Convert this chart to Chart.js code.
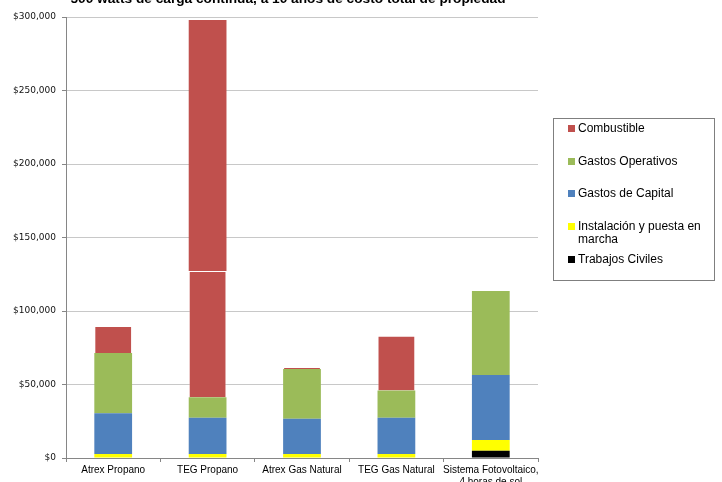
<!DOCTYPE html>
<html>
<head>
<meta charset="utf-8">
<script src="https://cdn.jsdelivr.net/npm/chart.js@4/dist/chart.umd.min.js"></script>
<style>
  html, body { margin: 0; padding: 0; background: #fff; }
  #wrap { position: relative; width: 722px; height: 482px; overflow: hidden; }
  #legend {
    position: absolute; left: 553px; top: 118px; width: 160px; height: 161px;
    border: 1px solid #7f7f7f; box-sizing: content-box;
    font: 12px "Liberation Sans", Arial, sans-serif; color: #000;
  }
  #legend .item { position: absolute; left: 14px; width: 145px; line-height: 13px; padding-left: 10px; }
  #legend .sw { position: absolute; left: 0; top: 3px; width: 7px; height: 7px; }
</style>
</head>
<body>
<div id="wrap">
  <canvas id="chart" width="722" height="482"></canvas>
  <div id="legend"></div>
</div>
<script>
const title = '500 watts de carga contínua, a 10 años de costo total de propiedad';
const categories = ['Atrex Propano', 'TEG Propano', 'Atrex Gas Natural', 'TEG Gas Natural', ['Sistema Fotovoltaico,', '4 horas de sol']];
const yTicks = [0, 50000, 100000, 150000, 200000, 250000, 300000];

// segment values, bottom to top
const trabajosCiviles = [0, 0, 0, 0, 5000];
const instalacion = [2700, 2700, 2700, 2700, 7200];
const gastosCapital = [27700, 24700, 24000, 24700, 44300];
const gastosOperativos = [41000, 13900, 33800, 18600, 57100];
const combustible = [18400, 85900, 1400, 37200, 0];
const combustibleExtra = [0, 170800, 0, 0, 0];

const colors = {
    civiles: '#000000',
    instalacion: '#ffff00',
    capital: '#4f81bd',
    operativos: '#9bbb59',
    combustible: '#c0504d'
};

const datasets = [
    { label: 'Trabajos Civiles', data: trabajosCiviles, backgroundColor: colors.civiles },
    { label: 'Instalación y puesta en marcha', data: instalacion, backgroundColor: colors.instalacion },
    { label: 'Gastos de Capital', data: gastosCapital, backgroundColor: colors.capital },
    { label: 'Gastos Operativos', data: gastosOperativos, backgroundColor: colors.operativos },
    { label: 'Combustible', data: combustible, backgroundColor: colors.combustible, borderColor: 'rgba(255,255,255,0.35)', borderWidth: 1 },
    { label: '', data: combustibleExtra, backgroundColor: colors.combustible, hideLegend: true }
].map(d => Object.assign({ barPercentage: 0.4, categoryPercentage: 1, stack: 's' }, d));

// html legend, top entry = last series
const legendTops = [3, 36, 68, 101, 134];
const legendEl = document.getElementById('legend');
datasets.filter(d => !d.hideLegend).reverse().forEach((d, i) => {
    const div = document.createElement('div');
    div.className = 'item';
    div.style.top = legendTops[i] + 'px';
    div.innerHTML = '<span class="sw" style="background:' + d.backgroundColor + '"></span>' + d.label;
    legendEl.appendChild(div);
});

const titlePlugin = {
    id: 'cutTitle',
    afterDraw(chart) {
        const ctx = chart.ctx;
        ctx.save();
        ctx.font = 'bold 13.7px "Liberation Sans", Arial, sans-serif';
        ctx.fillStyle = '#000';
        ctx.textAlign = 'center';
        ctx.textBaseline = 'alphabetic';
        ctx.fillText(title, 288, 3);
        ctx.restore();
    }
};

const money = v => '$' + v.toLocaleString('en-US');

new Chart(document.getElementById('chart'), {
    type: 'bar',
    data: { labels: categories, datasets: datasets },
    plugins: [titlePlugin],
    options: {
        responsive: false,
        animation: false,
        layout: { padding: { left: 0, top: 17, right: 184, bottom: 0 } },
        plugins: { legend: { display: false }, tooltip: { enabled: false } },
        scales: {
            x: {
                stacked: true,
                grid: { offset: true, drawOnChartArea: false, tickLength: 4, color: '#868686' },
                border: { color: '#868686' },
                ticks: {
                    color: '#000', padding: 2, maxRotation: 0, autoSkip: false,
                    font: { family: '"Liberation Sans", Arial, sans-serif', size: 10 }
                },
                afterFit: s => { s.height = 24; }
            },
            y: {
                stacked: true,
                min: 0, max: 300000,
                afterBuildTicks: s => { s.ticks = yTicks.map(v => ({ value: v })); },
                grid: { color: '#c8c8c8', tickLength: 4, tickColor: '#868686' },
                border: { color: '#868686' },
                ticks: {
                    color: '#111', padding: 6,
                    font: { family: '"DejaVu Sans", Tahoma, sans-serif', size: 9 },
                    callback: v => money(v)
                },
                afterFit: s => { s.width = 66; }
            }
        }
    }
});
</script>
</body>
</html>
